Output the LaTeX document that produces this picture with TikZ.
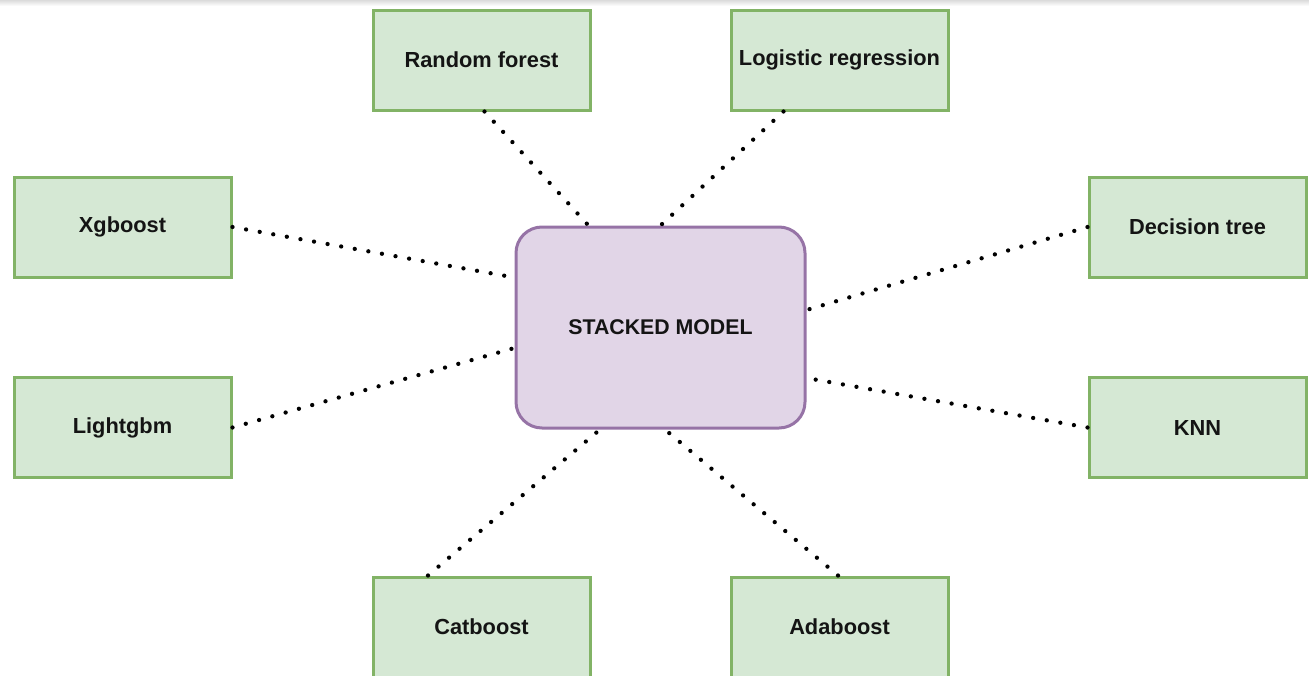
\documentclass[tikz,border=0pt]{standalone}
\usepackage{fontspec}
\setmainfont{Liberation Sans}
\begin{document}
\begin{tikzpicture}[x=1pt,y=-1pt,
  leaf/.style={draw={rgb,255:red,130;green,179;blue,102}, fill={rgb,255:red,213;green,232;blue,212}, line width=3pt, minimum width=217pt, minimum height=100pt, inner sep=0pt, font=\fontsize{21.8}{24}\selectfont\bfseries, text={rgb,255:red,20;green,20;blue,20}},
  hub/.style={draw={rgb,255:red,150;green,115;blue,166}, fill={rgb,255:red,225;green,213;blue,231}, line width=3pt, rounded corners=26pt, minimum width=289pt, minimum height=201pt, inner sep=0pt, font=\fontsize{21.3}{24}\selectfont\bfseries, text={rgb,255:red,20;green,20;blue,20}},
  link/.style={line width=4.3pt, line cap=round, dash pattern=on 0pt off 13.8pt, black}]
\useasboundingbox (0,0) rectangle (1309,675);
\shade[top color=black!14, bottom color=white] (0,0) rectangle (1309,6);
\node[hub] (sm) at (660.5,327.5) {STACKED MODEL};
\node[leaf] (rf) at (481.5,60) {Random forest};
\node[leaf] (lr) at (839.5,60) {Logistic regression};
\node[leaf] (xg) at (122.5,227) {Xgboost};
\node[leaf] (dt) at (1197.5,227) {Decision tree};
\node[leaf] (lg) at (122.5,427.5) {Lightgbm};
\node[leaf] (kn) at (1197.5,427.5) {KNN};
\node[leaf] (cb) at (481.5,627) {Catboost};
\node[leaf] (ab) at (839.5,627) {Adaboost};
\draw[link] ([xshift=3pt]rf.south) -- ([xshift=-72pt]sm.north);
\draw[link] ([xshift=-56pt]lr.south) -- ([xshift=0pt]sm.north);
\draw[link] (xg.east) -- ([yshift=50pt]sm.west);
\draw[link] (dt.west) -- ([yshift=17.5pt]sm.east);
\draw[link] (lg.east) -- ([yshift=-20.5pt]sm.west);
\draw[link] (kn.west) -- ([yshift=-50.5pt]sm.east);
\draw[link] ([xshift=-53.5pt]cb.north) -- ([xshift=-60.5pt]sm.south);
\draw[link] ([xshift=-1.5pt]ab.north) -- ([xshift=4.5pt]sm.south);
\end{tikzpicture}
\end{document}
